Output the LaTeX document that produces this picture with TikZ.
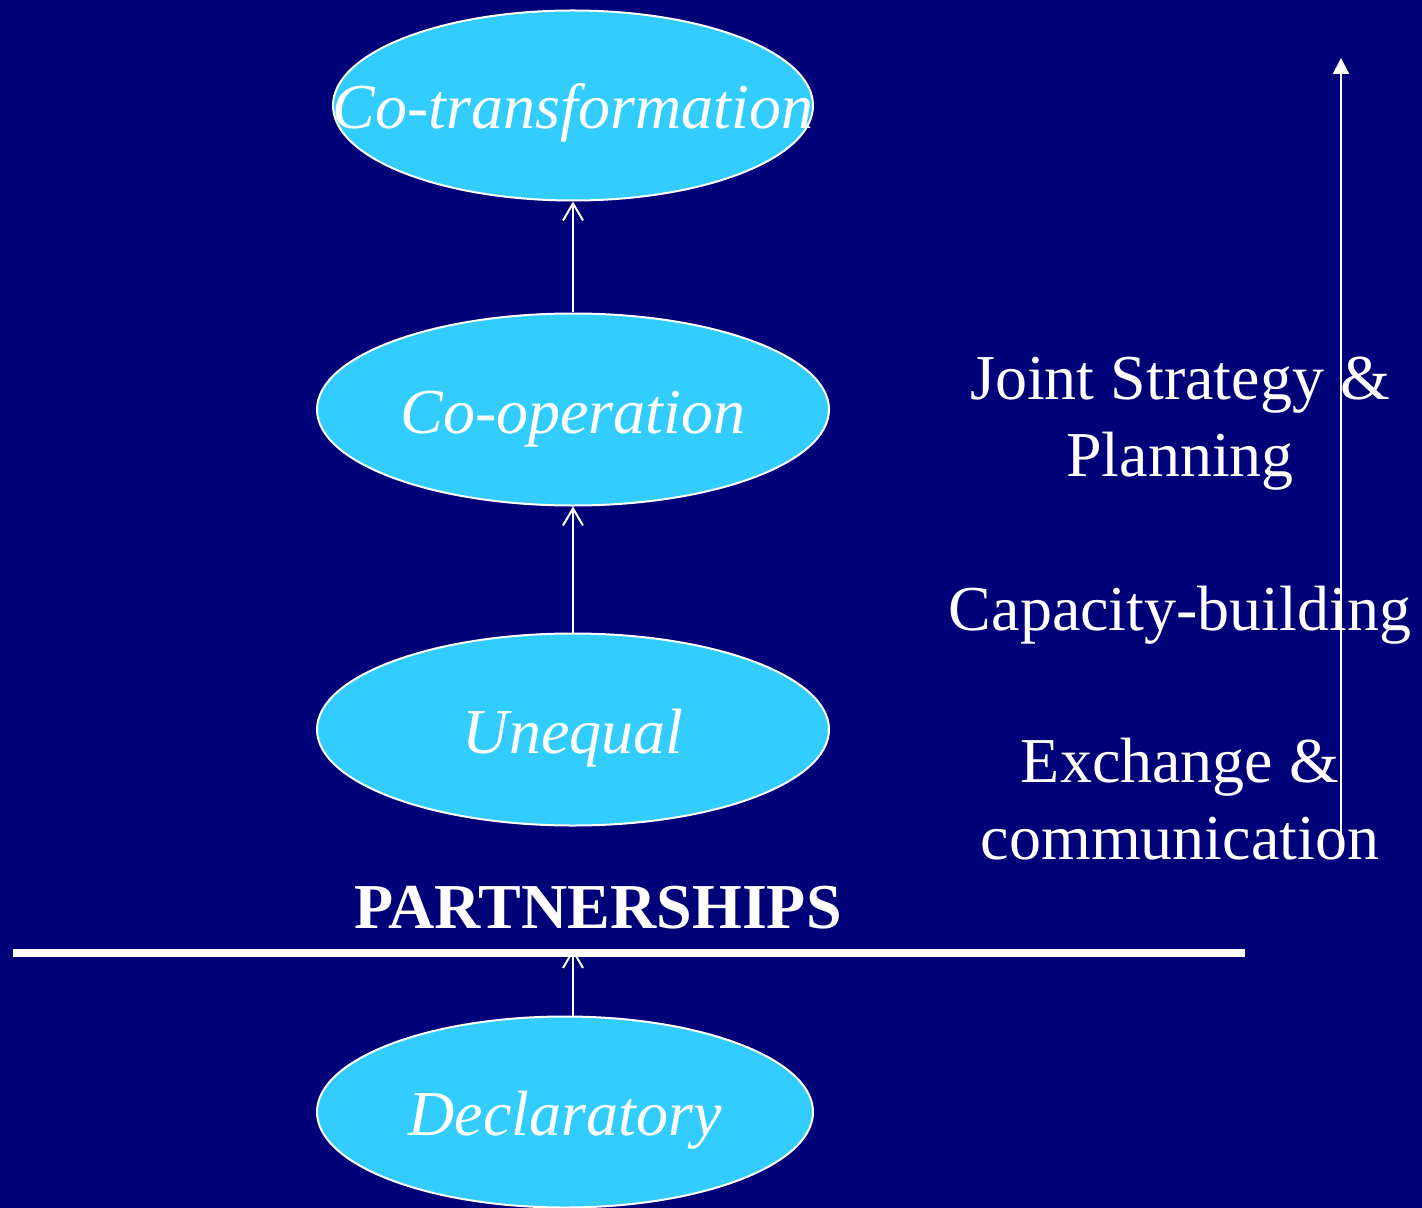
\documentclass[tikz,border=0pt]{standalone}
\usepackage{fontspec}
\setmainfont{Liberation Serif}
\usepackage{tikz}
\usetikzlibrary{shapes.geometric,arrows.meta,positioning}
\usepackage{xcolor}
\definecolor{navyback}{RGB}{0,0,120}
\definecolor{skycyan}{RGB}{51,204,255}

\begin{document}
\begin{tikzpicture}[
    x=0.5pt, y=0.5pt,
    stage/.style={ellipse, draw=white, fill=skycyan, line width=1pt, inner sep=0pt, minimum width=256pt, minimum height=96pt, text height=27.5pt, text depth=4pt, text=white, font=\fontsize{32}{38.5}\selectfont\itshape},
    side/.style={text=white, align=center, inner sep=0pt, font=\fontsize{32}{38.5}\selectfont},
    arrow/.style={-{Straight Barb[length=8.5pt, width=10pt]}, line width=1pt, draw=white},
    rise/.style={-{Triangle[length=8pt, width=8pt]}, line width=1pt, draw=white}
]
\useasboundingbox (0,0) rectangle (1422,-1208);
\fill[navyback] (0,0) rectangle (1422,-1208);

% partnership stages, bottom to top
\node[stage, minimum width=248pt, minimum height=95.5pt] (decl) at (565,-1112) {Declaratory};
\node[stage, above=94.5pt of decl, xshift=4pt] (uneq) {Unequal};
\node[stage, above=63pt of uneq] (coop) {Co-operation};
\node[stage, above=55.5pt of coop, minimum width=240pt, minimum height=95pt, inner xsep=-40pt] (cotrans) {Co-transformation};

% dividing rule
\coordinate (ruleL) at (13,-953);
\coordinate (ruleR) at (1245,-953);
\draw[white, line width=4pt] (ruleL) -- (ruleR);
\node[text=white, anchor=base, inner sep=0pt, font=\fontsize{32}{38.5}\selectfont\bfseries] (title) at (598,-928) {PARTNERSHIPS};

\draw[arrow] (decl.north -| uneq) -- ([yshift=2pt]uneq |- ruleL);
\draw[arrow] (uneq.north) -- (coop.south);
\draw[arrow] (coop.north) -- (cotrans.south);

% activities along the side
\node[side] (joint) at (1180,-424) {Joint Strategy \&\\Planning};
\node[side, anchor=base] (capacity) at (1180,-630) {Capacity-building};
\node[side] (exchange) at (1180,-799) {Exchange \&\\communication};

\coordinate (riseS) at (1341,-840);
\coordinate (riseE) at (1341,-58);
\draw[rise] (riseS) -- (riseE);
\end{tikzpicture}
\end{document}
